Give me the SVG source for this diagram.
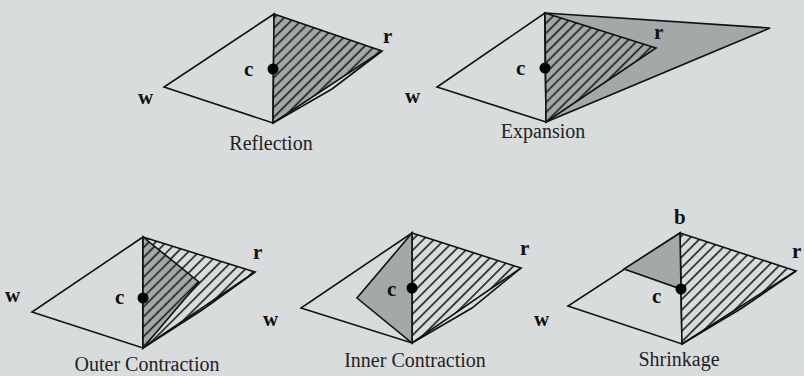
<svg xmlns="http://www.w3.org/2000/svg" width="804" height="376" viewBox="0 0 804 376">
<style>
.edge{fill:none;stroke:#111;stroke-width:1.6;stroke-linejoin:miter}
.plain{fill:#d9dcdd;stroke:#111;stroke-width:1.6}
.gray{fill:#a4a8a9;stroke:#111;stroke-width:1.6}
.hatchg{fill:url(#hatchGray);stroke:#111;stroke-width:1.6}
.hatchw{fill:url(#hatchWhite);stroke:#111;stroke-width:1.6}
.lbl{font-family:"Liberation Serif",serif;font-weight:bold;font-size:21px;fill:#111}
.cap{font-family:"Liberation Serif",serif;font-size:20px;fill:#222;text-anchor:middle}
.dot{fill:#000}
</style>
<defs>
<pattern id="hatchGray" patternUnits="userSpaceOnUse" width="7" height="7" patternTransform="rotate(45)">
<rect width="7" height="7" fill="#a4a8a9"/>
<line x1="3.5" y1="0" x2="3.5" y2="7" stroke="#111" stroke-width="1.5"/>
</pattern>
<pattern id="hatchWhite" patternUnits="userSpaceOnUse" width="7.5" height="7.5" patternTransform="rotate(45)">
<rect width="7.5" height="7.5" fill="#d9dcdd"/>
<line x1="3.75" y1="0" x2="3.75" y2="7.5" stroke="#111" stroke-width="1.5"/>
</pattern>
</defs>
<rect width="804" height="376" fill="#d9dcdd"/>

<g id="reflection">
<polygon class="plain" points="274,14 164,87 273,123"/>
<polygon class="hatchg" points="274,14 382,51 273,123"/>
<polyline class="edge" points="382,51 332,89 273,123" stroke-width="1"/>
<circle class="dot" cx="273" cy="69" r="5.5"/>
<text class="lbl" x="244" y="76">c</text>
<text class="lbl" x="383" y="43">r</text>
<text class="lbl" x="138" y="104">w</text>
<text class="cap" x="271" y="150">Reflection</text>
</g>

<g id="expansion">
<polygon class="plain" points="545,13 437,87 546,122"/>
<polygon class="gray" points="545,13 770,28 546,122"/>
<polygon class="hatchg" points="545,13 656,48 546,122"/>
<circle class="dot" cx="545" cy="68" r="5.5"/>
<text class="lbl" x="516" y="75">c</text>
<text class="lbl" x="654" y="39">r</text>
<text class="lbl" x="405" y="103">w</text>
<text class="cap" x="543" y="138">Expansion</text>
</g>

<g id="outer-contraction">
<polygon class="plain" points="143,237 32,312 143,348"/>
<polygon class="hatchw" points="143,237 255,272 143,348"/>
<polyline class="edge" points="255,272 202,310 143,348" stroke-width="1"/>
<polygon class="hatchg" points="143,237 199,282 143,348"/>
<circle class="dot" cx="143" cy="298" r="5.5"/>
<text class="lbl" x="115" y="304">c</text>
<text class="lbl" x="253" y="259">r</text>
<text class="lbl" x="5" y="302">w</text>
<text class="cap" x="147" y="371">Outer Contraction</text>
</g>

<g id="inner-contraction">
<polygon class="plain" points="412,233 301,308 412,343"/>
<polygon class="hatchw" points="412,233 521,268 412,343"/>
<polyline class="edge" points="521,268 472,308 412,343" stroke-width="1"/>
<polygon class="gray" points="412,233 357,298 412,343"/>
<circle class="dot" cx="412" cy="288" r="5.5"/>
<text class="lbl" x="387" y="296">c</text>
<text class="lbl" x="520" y="255">r</text>
<text class="lbl" x="263" y="326">w</text>
<text class="cap" x="415" y="367">Inner Contraction</text>
</g>

<g id="shrinkage">
<polygon class="plain" points="680,233 568,306 682,344"/>
<polygon class="hatchw" points="680,233 796,271 682,344"/>
<polyline class="edge" points="796,271 742,308 682,344" stroke-width="1"/>
<polygon class="gray" points="680,233 624,269 681,289"/>
<circle class="dot" cx="681" cy="289" r="5.5"/>
<text class="lbl" x="674" y="224">b</text>
<text class="lbl" x="652" y="303">c</text>
<text class="lbl" x="792" y="258">r</text>
<text class="lbl" x="534" y="326">w</text>
<text class="cap" x="679" y="366">Shrinkage</text>
</g>
</svg>
